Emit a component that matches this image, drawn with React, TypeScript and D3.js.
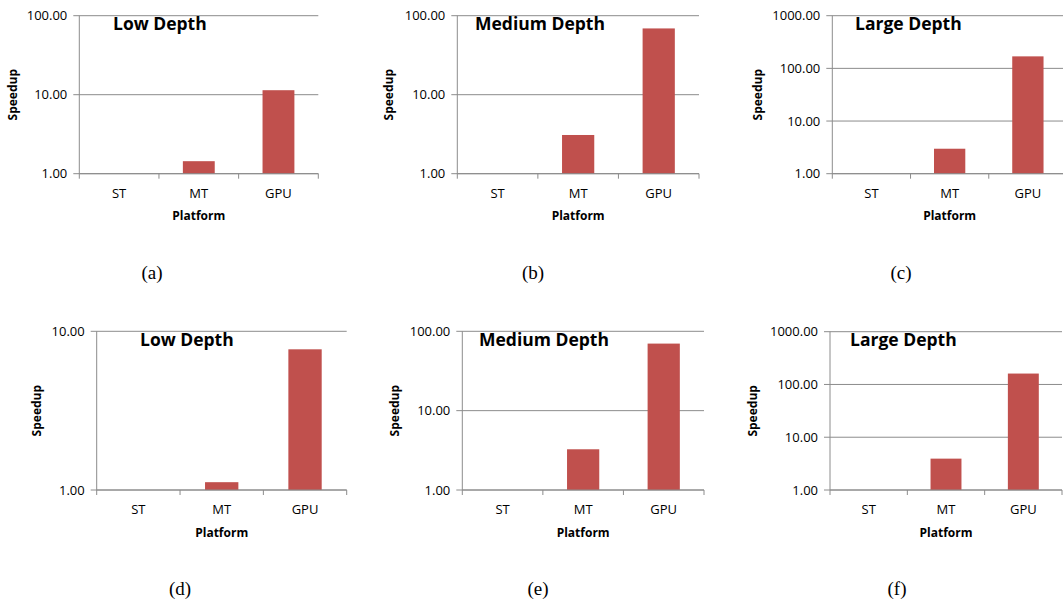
import React from 'react';
import * as d3 from 'd3';

// categories and speedup values
const platforms = ['ST', 'MT', 'GPU'];
const titles = ['Low Depth', 'Medium Depth', 'Large Depth', 'Low Depth', 'Medium Depth', 'Large Depth'];
const captions = ['(a)', '(b)', '(c)', '(d)', '(e)', '(f)'];
const maxima = [100, 100, 1000, 10, 100, 1000];

const speedupA = [1.0, 1.44, 11.4];
const speedupB = [1.0, 3.09, 69];
const speedupC = [1.0, 2.98, 169];
const speedupD = [1.0, 1.12, 7.7];
const speedupE = [1.0, 3.26, 70];
const speedupF = [1.0, 3.93, 161];
const series = [speedupA, speedupB, speedupC, speedupD, speedupE, speedupF];

// panel geometry (page pixels)
const layout = [
  { left: 79.3, right: 318.3, top: 15.7, bottom: 173.7, titleX: 113, labelX: 13, capX: 152, capY: 279 },
  { left: 457.3, right: 699, top: 15.7, bottom: 173.7, titleX: 475, labelX: 389, capX: 533, capY: 279 },
  { left: 832.3, right: 1067, top: 15.7, bottom: 173.7, titleX: 855, labelX: 757.7, capX: 901, capY: 279 },
  { left: 96.7, right: 346.7, top: 331.3, bottom: 490, titleX: 140, labelX: 37, capX: 180, capY: 595 },
  { left: 462.3, right: 704, top: 331.3, bottom: 490, titleX: 479, labelX: 395, capX: 538, capY: 595 },
  { left: 830, right: 1062, top: 331.7, bottom: 490, titleX: 850, labelX: 753, capX: 897, capY: 595 },
];

const font = '"Open Sans", sans-serif';
const gridColor = '#8c8c8c';
const barColor = '#c0504d';
const fmt = d3.format('.2f');

function Panel({ idx }: { idx: number }) {
  const g = layout[idx];
  const values = series[idx];
  const max = maxima[idx];

  const y = d3.scaleLog().domain([1, max]).range([g.bottom, g.top]);
  const x = d3.scaleBand().domain(platforms).range([g.left, g.right])
    .paddingInner(0.6).paddingOuter(0.3);
  const step = x.step();
  const ticks = d3.range(0, Math.round(Math.log10(max)) + 1).map((e) => Math.pow(10, e));
  const boundaries = d3.range(0, platforms.length + 1).map((i) => g.left + i * step);

  return (
    <g>
      {/* horizontal gridlines + left ticks */}
      {ticks.map((t) => (
        <g key={t}>
          <line x1={g.left - 6} x2={g.right} y1={y(t)} y2={y(t)} stroke={gridColor} strokeWidth={1} />
          <text x={g.left - 12} y={y(t)} dy="0.35em" textAnchor="end" fontSize={13} fontFamily={font} fill="#000">
            {fmt(t)}
          </text>
        </g>
      ))}
      {/* bars */}
      {platforms.map((p, i) => (
        <rect key={p} x={x(p)} width={x.bandwidth()} y={y(values[i])}
          height={g.bottom - y(values[i])} fill={barColor} />
      ))}
      {/* axes */}
      <line x1={g.left} x2={g.left} y1={g.top} y2={g.bottom} stroke={gridColor} />
      <line x1={g.left} x2={g.right} y1={g.bottom} y2={g.bottom} stroke={gridColor} />
      {boundaries.map((b, i) => (
        <line key={i} x1={b} x2={b} y1={g.bottom} y2={g.bottom + 5} stroke={gridColor} />
      ))}
      {platforms.map((p) => (
        <text key={p} x={(x(p) as number) + x.bandwidth() / 2} y={g.bottom + 24} textAnchor="middle"
          fontSize={13} fontFamily={font}>{p}</text>
      ))}
      <text x={(g.left + g.right) / 2} y={g.bottom + 46.5}
        textAnchor="middle" fontSize={12} fontWeight="bold" fontFamily={font}>Platform</text>
      <text transform={`translate(${g.labelX},${(g.top + g.bottom) / 2}) rotate(-90)`} dy="0.35em"
        textAnchor="middle" fontSize={12} fontWeight="bold" fontFamily={font}>Speedup</text>
      <text x={g.titleX} y={g.top + 14.5} fontSize={17.5} fontWeight="bold" fontFamily={font}>{titles[idx]}</text>
      <text x={g.capX} y={g.capY} textAnchor="middle" fontSize={19}
        fontFamily='"Liberation Serif", "Times New Roman", serif'>{captions[idx]}</text>
    </g>
  );
}

export default function App() {
  return (
    <svg width={1063} height={603} style={{ position: 'absolute', left: 0, top: 0, background: '#fff' }}>
      <rect width={1063} height={603} fill="#fff" />
      {layout.map((_, i) => <Panel key={i} idx={i} />)}
    </svg>
  );
}
